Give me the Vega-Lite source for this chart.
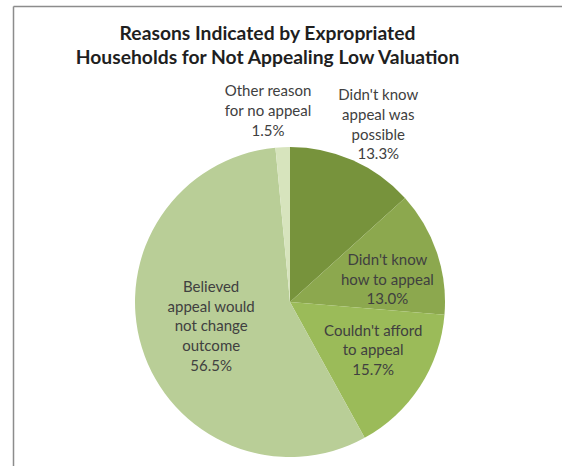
{
  "$schema": "https://vega.github.io/schema/vega-lite/v6.json",
  "autosize": {"type": "none"},
  "width": 549,
  "height": 460,
  "padding": {"left": 13, "top": 6, "right": 0, "bottom": 0},
  "background": "white",
  "view": {"stroke": null, "fill": "white"},
  "title": {
    "text": ["Reasons Indicated by Expropriated", "Households for Not Appealing Low Valuation"],
    "font": "Lato",
    "fontSize": 19.3,
    "fontWeight": "bold",
    "color": "#1f1f1f",
    "lineHeight": 24,
    "anchor": "middle",
    "frame": "group",
    "offset": -62,
    "dx": -20
  },
  "data": {
    "values": [
      {"reason": "Didn't know appeal was possible", "label": "Didn't know\nappeal was\npossible", "pct": 13.3, "order": 1},
      {"reason": "Didn't know how to appeal", "label": "Didn't know\nhow to appeal", "pct": 13.0, "order": 2},
      {"reason": "Couldn't afford to appeal", "label": "Couldn't afford\nto appeal", "pct": 15.7, "order": 3},
      {"reason": "Believed appeal would not change outcome", "label": "Believed\nappeal would\nnot change\noutcome", "pct": 56.5, "order": 4},
      {"reason": "Other reason for no appeal", "label": "Other reason\nfor no appeal", "pct": 1.5, "order": 5}
    ]
  },
  "transform": [
    {"stack": "pct", "groupby": [], "sort": [{"field": "order", "order": "ascending"}], "as": ["t0", "t1"]},
    {"calculate": "(datum.t0 + datum.t1) / 2", "as": "tmid"},
    {"calculate": "datum.label + '\\n' + format(datum.pct / 100, '.1%')", "as": "text"}
  ],
  "layer": [
    {
      "mark": {"type": "point", "opacity": 0},
      "encoding": {
        "x": {"datum": 0, "type": "quantitative", "scale": {"domain": [0, 1]}, "axis": {"orient": "top", "domainColor": "#8c8c8c", "domainWidth": 1.5, "ticks": false, "labels": false, "grid": false, "title": null}},
        "y": {"datum": 0, "type": "quantitative", "scale": {"domain": [0, 1]}, "axis": {"orient": "left", "domainColor": "#8c8c8c", "domainWidth": 1.5, "ticks": false, "labels": false, "grid": false, "title": null}}
      }
    },
    {
      "mark": {"type": "arc", "outerRadius": 155, "xOffset": 2.5, "yOffset": 66},
      "encoding": {
        "theta": {"field": "t0", "type": "quantitative", "stack": null, "scale": {"domain": [0, 100]}},
        "theta2": {"field": "t1"},
        "color": {
          "field": "reason",
          "type": "nominal",
          "scale": {
            "domain": ["Didn't know appeal was possible", "Didn't know how to appeal", "Couldn't afford to appeal", "Believed appeal would not change outcome", "Other reason for no appeal"],
            "range": ["#77933c", "#8ca84e", "#9bbb59", "#b9ce97", "#d7e4bd"]
          },
          "legend": null
        }
      }
    },
    {
      "transform": [{"filter": "datum.order == 1"}],
      "mark": {"type": "text", "font": "Lato", "fontSize": 15, "lineBreak": "\n", "lineHeight": 19.7, "color": "#404040", "xOffset": 2.5, "yOffset": 66, "radius": 225, "dx": -3, "dy": -1},
      "encoding": {
        "theta": {"field": "tmid", "type": "quantitative", "stack": null, "scale": {"domain": [0, 100]}},
        "text": {"field": "text", "type": "nominal"}
      }
    },
    {
      "transform": [{"filter": "datum.order == 2"}],
      "mark": {"type": "text", "font": "Lato", "fontSize": 15, "lineBreak": "\n", "lineHeight": 19.7, "color": "#404040", "xOffset": 2.5, "yOffset": 66, "radius": 106, "dx": -3, "dy": -8},
      "encoding": {
        "theta": {"field": "tmid", "type": "quantitative", "stack": null, "scale": {"domain": [0, 100]}},
        "text": {"field": "text", "type": "nominal"}
      }
    },
    {
      "transform": [{"filter": "datum.order == 3"}],
      "mark": {"type": "text", "font": "Lato", "fontSize": 15, "lineBreak": "\n", "lineHeight": 19.7, "color": "#404040", "xOffset": 2.5, "yOffset": 66, "radius": 86, "dx": 11, "dy": -18},
      "encoding": {
        "theta": {"field": "tmid", "type": "quantitative", "stack": null, "scale": {"domain": [0, 100]}},
        "text": {"field": "text", "type": "nominal"}
      }
    },
    {
      "transform": [{"filter": "datum.order == 4"}],
      "mark": {"type": "text", "font": "Lato", "fontSize": 15, "lineBreak": "\n", "lineHeight": 19.7, "color": "#404040", "xOffset": 2.5, "yOffset": 66, "radius": 71, "dx": -11, "dy": -36},
      "encoding": {
        "theta": {"field": "tmid", "type": "quantitative", "stack": null, "scale": {"domain": [0, 100]}},
        "text": {"field": "text", "type": "nominal"}
      }
    },
    {
      "transform": [{"filter": "datum.order == 5"}],
      "mark": {"type": "text", "font": "Lato", "fontSize": 15, "lineBreak": "\n", "lineHeight": 19.7, "color": "#404040", "xOffset": 2.5, "yOffset": 66, "radius": 212, "dx": -12, "dy": 1},
      "encoding": {
        "theta": {"field": "tmid", "type": "quantitative", "stack": null, "scale": {"domain": [0, 100]}},
        "text": {"field": "text", "type": "nominal"}
      }
    }
  ]
}
